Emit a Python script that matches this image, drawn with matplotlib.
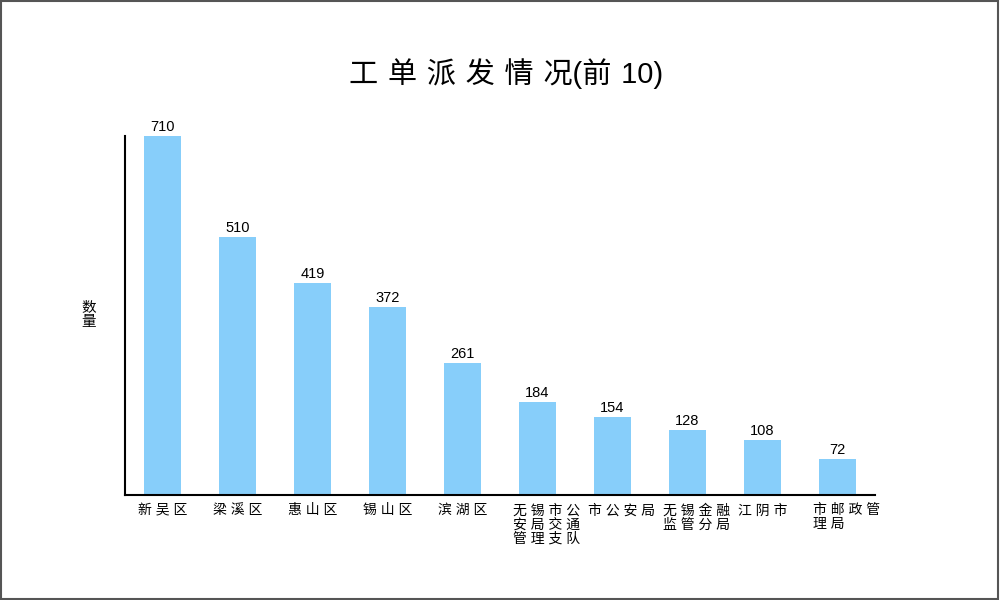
import numpy as np
import matplotlib
matplotlib.use("Agg")
import matplotlib.pyplot as plt
from matplotlib.patches import Rectangle

plt.rcParams['font.family'] = ['Liberation Sans', 'Noto Sans CJK SC', 'DejaVu Sans']

# data
depts = ["新吴区", "梁溪区", "惠山区", "锡山区", "滨湖区",
         "无锡市公安局交通管理支队", "市公安局", "无锡金融监管分局",
         "江阴市", "市邮政管理局"]
counts = [710, 510, 419, 372, 261, 184, 154, 128, 108, 72]
title = "工单派发情况(前10)"

bar_color = "#87CEFA"


def wrap(s, n=4):
    lines = [s[i:i + n] for i in range(0, len(s), n)]
    return "\n".join(" ".join(line) for line in lines)


fig = plt.figure(figsize=(10, 6), dpi=100)
ax = fig.add_axes([0.125, 0.175, 0.75, 0.5983])

x = np.arange(len(depts))
bars = ax.bar(x, counts, width=0.5, color=bar_color)

ax.set_xlim(-0.5, len(depts) - 0.5)
ax.set_ylim(0, max(counts))

for sp in ['top', 'right']:
    ax.spines[sp].set_visible(False)
for sp in ['left', 'bottom']:
    ax.spines[sp].set_linewidth(1.5)
    ax.spines[sp].set_color('black')
ax.set_xticks([])
ax.set_yticks([])

# value labels
for xi, v in zip(x, counts):
    ax.annotate(str(v), xy=(xi, v), xytext=(0, 1.5), textcoords='offset points',
                ha='center', va='bottom', fontsize=10.5, color='black')

# category labels (wrapped, left aligned)
for xi, name in zip(x, depts):
    ax.annotate(wrap(name), xy=(xi - 0.333, 0), xytext=(0, -6),
                textcoords='offset points', ha='left', va='top',
                fontsize=10, linespacing=1.0, color='black',
                annotation_clip=False)

# y label, stacked characters
fig.text(0.089, 0.475, "数\n量", ha='center', va='center', fontsize=10.5,
         linespacing=1.0)

# title with spaced characters
t = "\u2004".join(title[:6]) + title[6:8] + "\u2004" + title[8:]
fig.text(0.506, 0.877, t, ha='center', va='center', fontsize=21)

# figure border
fig.patches.append(Rectangle((0.001, 0.002), 0.997, 0.996, transform=fig.transFigure,
                             fill=False, edgecolor='#555555', linewidth=1.5))

plt.savefig("out.png", dpi=100)
